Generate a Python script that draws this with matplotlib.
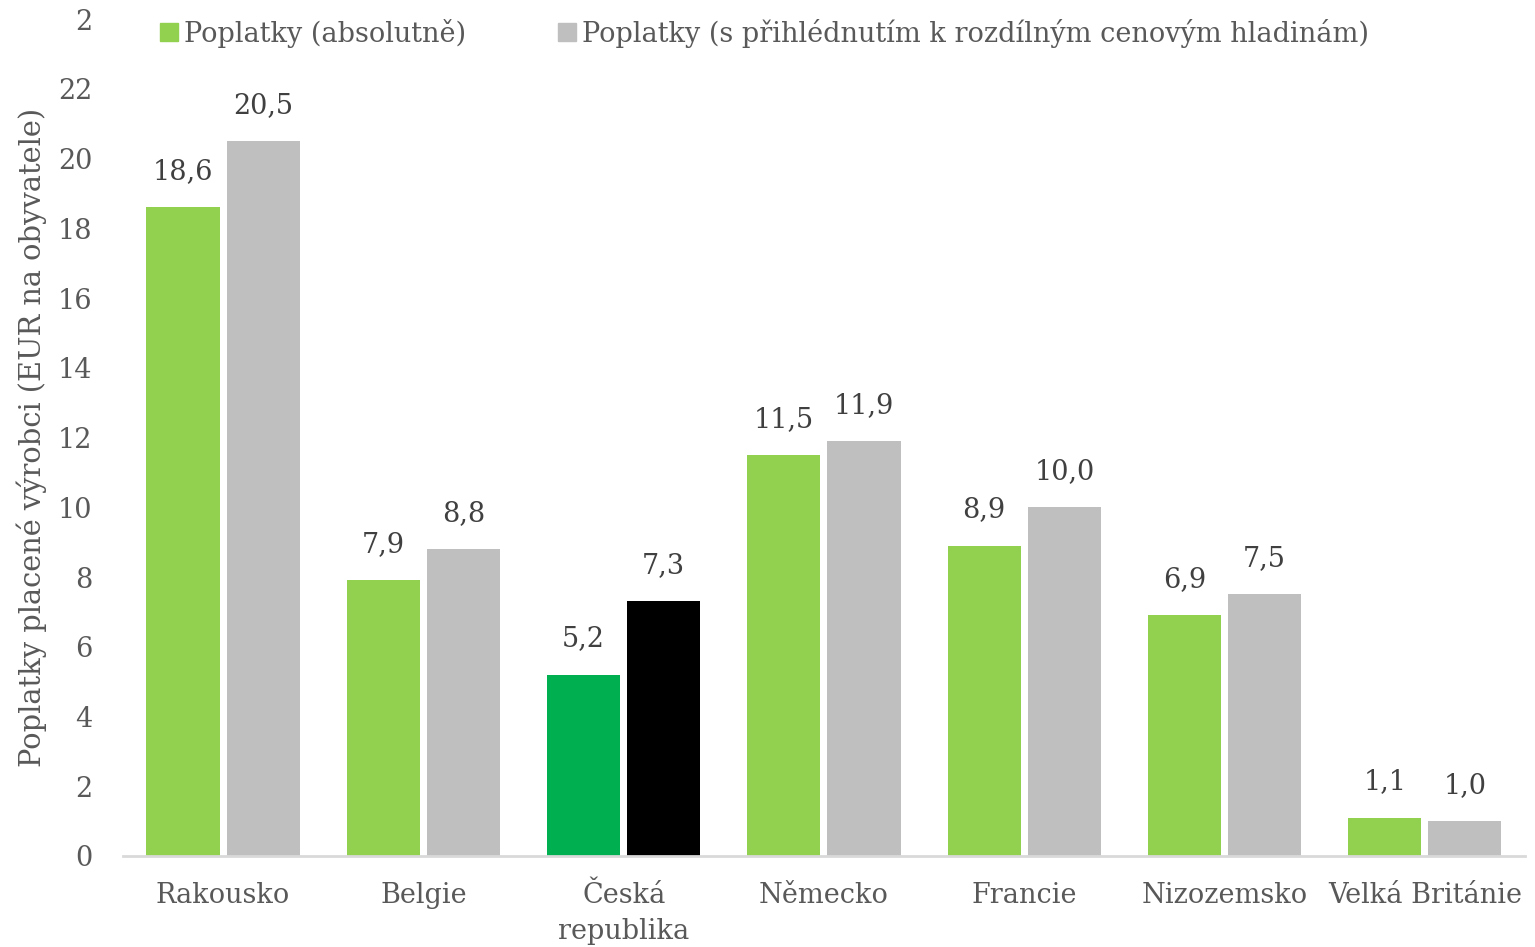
import matplotlib
matplotlib.use("Agg")
import matplotlib.pyplot as plt
import numpy as np

# data
countries = ["Rakousko", "Belgie", "Česká\nrepublika", "Německo", "Francie",
             "Nizozemsko", "Velká Británie"]
absolute = [18.6, 7.9, 5.2, 11.5, 8.9, 6.9, 1.1]
adjusted = [20.5, 8.8, 7.3, 11.9, 10.0, 7.5, 1.0]
absolute_colors = ["#92D050", "#92D050", "#00B050", "#92D050", "#92D050", "#92D050", "#92D050"]
adjusted_colors = ["#BFBFBF", "#BFBFBF", "#000000", "#BFBFBF", "#BFBFBF", "#BFBFBF", "#BFBFBF"]
yticks = [0, 2, 4, 6, 8, 10, 12, 14, 16, 18, 20, 22, 24]
ytick_labels = ["0", "2", "4", "6", "8", "10", "12", "14", "16", "18", "20", "22", "2"]
legend_labels = ["Poplatky (absolutně)",
                 "Poplatky (s přihlédnutím k rozdílným cenovým hladinám)"]
ylabel = "Poplatky placené výrobci (EUR na obyvatele)"

plt.rcParams['font.family'] = ['DejaVu Serif']
txt = "#595959"
fs = 19.5

fig = plt.figure(figsize=(15.35, 9.47), dpi=100)
ax = fig.add_axes([0.0801, 0.0961, 0.9134, 0.8838])

x = np.arange(len(countries))
w = 0.365
b1 = ax.bar(x - 0.2, absolute, w, color=absolute_colors, label=legend_labels[0])
b2 = ax.bar(x + 0.2, adjusted, w, color=adjusted_colors, label=legend_labels[1])

for bars, vals in ((b1, absolute), (b2, adjusted)):
    for r, v in zip(bars, vals):
        ax.annotate(f"{v:.1f}".replace(".", ","), (r.get_x() + r.get_width() / 2, v),
                    xytext=(0, 16), textcoords="offset points", ha="center", va="bottom",
                    fontsize=fs, color="#404040")

ax.set_xlim(-0.5, len(countries) - 0.5)
ax.set_ylim(0, 24)
ax.set_yticks(yticks)
ax.set_yticklabels(ytick_labels)
ax.set_xticks(x)
ax.set_xticklabels(countries, linespacing=1.4)
ax.tick_params(axis="both", length=0, labelsize=fs, colors=txt)
ax.tick_params(axis="y", pad=22)
ax.tick_params(axis="x", pad=19)
ax.set_ylabel(ylabel, fontsize=20.8, color=txt, labelpad=8)

for s in ("top", "right", "left"):
    ax.spines[s].set_visible(False)
ax.spines["bottom"].set_color("#D9D9D9")
ax.spines["bottom"].set_linewidth(2)

leg = fig.legend(handles=[b1[0], b2[0]], labels=legend_labels, ncol=2,
                 loc="center left", bbox_to_anchor=(0.1045, 0.965), frameon=False,
                 fontsize=fs, handlelength=0.65, handleheight=0.65, handletextpad=0.22,
                 columnspacing=3.4, labelcolor=txt, borderpad=0, borderaxespad=0)
leg.legend_handles[0].set_color("#92D050")
leg.legend_handles[1].set_color("#BFBFBF")

fig.savefig("out.png", dpi=100)
